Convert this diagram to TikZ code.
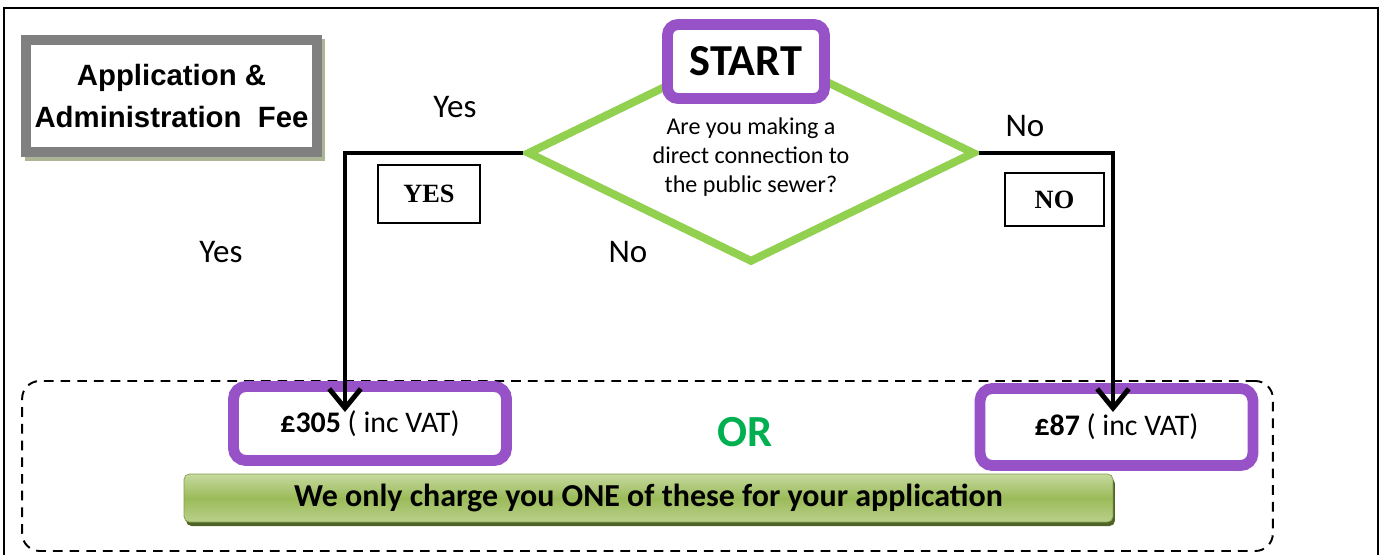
\documentclass[tikz,border=0pt]{standalone}
\usepackage{fontspec}
\setmainfont{Carlito}
\newfontfamily\arialfont{Liberation Sans}
\newfontfamily\timesfont{Liberation Serif}
\usetikzlibrary{shapes.geometric,arrows.meta}
\definecolor{amethyst}{RGB}{151, 82, 200}
\definecolor{leafgreen}{RGB}{146, 208, 80}
\definecolor{emerald}{RGB}{0, 176, 80}
\definecolor{ash}{RGB}{128, 128, 128}
\definecolor{sage}{RGB}{172, 182, 150}
\definecolor{barlight}{RGB}{198, 217, 160}
\definecolor{barmid}{RGB}{155, 187, 89}
\definecolor{bardark}{RGB}{79, 98, 40}
\tikzset{
  feebox/.style={draw=amethyst, fill=white, line width=6.2pt, rounded corners=7pt,
                 minimum width=5.46cm, minimum height=1.48cm, font=\fontsize{17}{19}\selectfont},
  tagbox/.style={draw, fill=white, line width=0.9pt, font=\timesfont\bfseries\fontsize{15}{17}\selectfont},
  answer/.style={font=\fontsize{18.8}{21}\selectfont},
  flow/.style={line width=2.8pt, -{Straight Barb[length=11pt,width=18pt]}}
}
\begin{document}
\begin{tikzpicture}[x=0.02cm, y=-0.02cm]
  \useasboundingbox (0,0) rectangle (1383,555);
  \draw[line width=1.1pt] (4,555) -- (4,8) -- (1378,8) -- (1378,555);

  \node[draw=sage, line width=5.7pt, minimum width=5.82cm, minimum height=2.24cm] (titleshade) at (175,100) {};
  \node[draw=ash, fill=white, line width=5.7pt, minimum width=5.82cm, minimum height=2.24cm, align=center,
        font=\arialfont\bfseries\fontsize{16.7}{23.5}\selectfont] (title) at (171.5,96) {Application \&\\Administration\ \ Fee};

  \node[diamond, draw=leafgreen, line width=4.5pt, minimum width=8.96cm, minimum height=4.38cm, inner sep=0pt] (query) at (751,153) {};
  \node[align=center, font=\fontsize{13.7}{16.4}\selectfont] (question) at (751,157) {Are you making a\\direct connection to\\the public sewer?};
  \node[draw=amethyst, fill=white, line width=6.2pt, rounded corners=6pt, minimum width=3.14cm, minimum height=1.48cm,
        font=\bfseries\fontsize{25.2}{27}\selectfont] (start) at (746,61.5) {START};

  \node[answer] (yestop)  at (455,107) {Yes};
  \node[answer] (notop)   at (1025,126) {No};
  \node[answer] (yesleft) at (221,252) {Yes};
  \node[answer] (nomid)   at (628,252) {No};

  \node[tagbox, minimum width=2.04cm, minimum height=1.16cm] (yestag) at (429,194) {YES};
  \node[tagbox, minimum width=1.98cm, minimum height=1.06cm] (notag)  at (1054.5,199.5) {NO};

  \node[draw, line width=1.1pt, dash pattern=on 5.5pt off 4pt, rounded corners=10pt,
        minimum width=25.02cm, minimum height=3.4cm] (choice) at (647.5,466) {};
  \node[feebox]                      (fee305) at (370,423.5) {\textbf{£305} ( inc VAT)};
  \node[feebox, minimum height=1.54cm] (fee87)  at (1116.5,427) {\textbf{£87} ( inc VAT)};
  \node[text=emerald, font=\bfseries\fontsize{25.3}{27}\selectfont] (either) at (745,432) {OR};

  \node[fill=bardark, rounded corners=3pt, minimum width=18.58cm, minimum height=0.96cm] (noteshade) at (650.5,502) {};
  \node[draw=barmid!85!black, top color=barlight, bottom color=barlight!70!barmid, middle color=barmid, rounded corners=3pt,
        minimum width=18.58cm, minimum height=0.96cm, font=\bfseries\fontsize{18.2}{20}\selectfont] (note) at (648.5,498)
        {We only charge you ONE of these for your application};

  \coordinate (yesend) at (345,412);
  \coordinate (noend)  at (1113,412);
  \draw[flow] (query.west) -| (yesend);
  \draw[flow] (query.east) -| (noend);
\end{tikzpicture}
\end{document}
